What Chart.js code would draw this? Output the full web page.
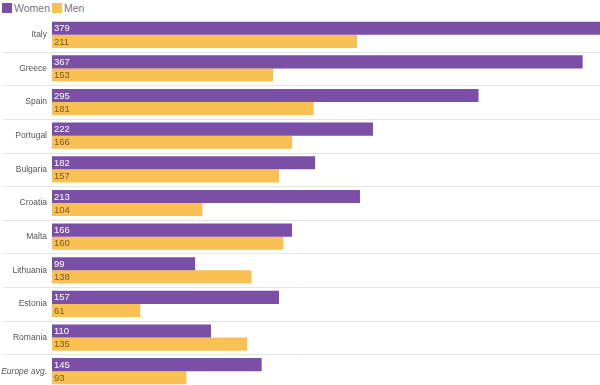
<!DOCTYPE html>
<html>
<head>
<meta charset="utf-8">
<script src="https://cdn.jsdelivr.net/npm/chart.js@4"></script>
<style>
  html, body { margin: 0; padding: 0; background: #fff; overflow: hidden; }
  #legend { height: 18px; font: 10.5px "Liberation Sans", Arial, sans-serif; color: #777; }
  #legend span.item { position: absolute; top: 2px; line-height: 12px; }
  #legend i { display: inline-block; width: 10px; height: 10px; vertical-align: -1px; margin-right: 2px; }
  #wrap { width: 600px; height: 370px; }
</style>
</head>
<body>
<div id="legend"></div>
<div id="wrap"><canvas id="chart"></canvas></div>
<script>
// Data
const countries = ['Italy', 'Greece', 'Spain', 'Portugal', 'Bulgaria', 'Croatia', 'Malta', 'Lithuania', 'Estonia', 'Romania', 'Europe avg.'];
const women = [379, 367, 295, 222, 182, 213, 166, 99, 157, 110, 145];
const men = [211, 153, 181, 166, 157, 104, 160, 138, 61, 135, 93];

const purple = '#7b4fa6';
const yellow = '#f9c154';
const fontFamily = '"Liberation Sans", Arial, sans-serif';

// separator lines between country groups
const separators = {
    id: 'separators',
    beforeDatasetsDraw(chart) {
        const ctx = chart.ctx;
        const y = chart.scales.y;
        ctx.save();
        ctx.strokeStyle = '#e4e4e4';
        ctx.lineWidth = 1;
        for (let i = 1; i < countries.length; i++) {
            const py = Math.round((y.getPixelForValue(i - 1) + y.getPixelForValue(i)) / 2) + 0.5;
            ctx.beginPath();
            ctx.moveTo(3, py);
            ctx.lineTo(chart.width, py);
            ctx.stroke();
        }
        ctx.restore();
    }
};

// value labels inside bars
const barValues = {
    id: 'barValues',
    afterDatasetsDraw(chart) {
        const ctx = chart.ctx;
        ctx.save();
        ctx.font = '9.5px ' + fontFamily;
        ctx.textBaseline = 'middle';
        chart.data.datasets.forEach((ds, di) => {
            const meta = chart.getDatasetMeta(di);
            ctx.fillStyle = di === 0 ? '#ffffff' : '#7a5a20';
            meta.data.forEach((bar, i) => {
                ctx.fillText(ds.data[i], bar.base + 2, bar.y + 0.5);
            });
        });
        ctx.restore();
    }
};

const chart = new Chart(document.getElementById('chart'), {
    type: 'bar',
    data: {
        labels: countries,
        datasets: [
            { label: 'Women', data: women, backgroundColor: purple },
            { label: 'Men', data: men, backgroundColor: yellow }
        ]
    },
    options: {
        indexAxis: 'y',
        responsive: true,
        maintainAspectRatio: false,
        animation: false,
        categoryPercentage: 0.78,
        barPercentage: 1,
        layout: { padding: 0 },
        scales: {
            x: {
                display: false,
                min: 0,
                max: 379
            },
            y: {
                afterFit: function (scale) {
                    scale.width = 52;
                    scale.paddingTop = 0;
                    scale.paddingBottom = 0;
                },
                grid: { display: false, drawTicks: false },
                border: { display: false },
                ticks: {
                    padding: 5,
                    color: '#555',
                    font: function (ctx) {
                        const italic = ctx.index === countries.length - 1;
                        return { size: 8.5, family: fontFamily, style: italic ? 'italic' : 'normal' };
                    }
                }
            }
        },
        plugins: {
            legend: { display: false },
            tooltip: { enabled: false }
        }
    },
    plugins: [separators, barValues]
});

// HTML legend built from the datasets
const legendX = [2, 52];
document.getElementById('legend').innerHTML = chart.data.datasets.map((ds, i) =>
    '<span class="item" style="left:' + legendX[i] + 'px"><i style="background:' + ds.backgroundColor + '"></i>' + ds.label + '</span>'
).join('');
</script>
</body>
</html>
